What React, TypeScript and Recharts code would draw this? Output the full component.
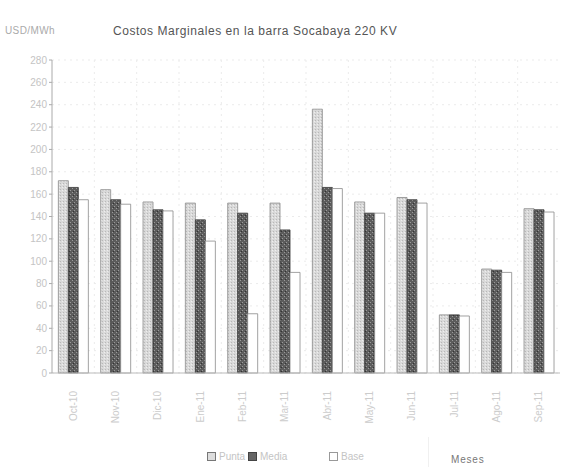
import { Bar, BarChart, CartesianGrid, Legend, XAxis, YAxis } from "recharts";

const months = ["Oct-10", "Nov-10", "Dic-10", "Ene-11", "Feb-11", "Mar-11", "Abr-11", "May-11", "Jun-11", "Jul-11", "Ago-11", "Sep-11"];
const punta = [172, 164, 153, 152, 152, 152, 236, 153, 157, 52, 93, 147];
const media = [166, 155, 146, 137, 143, 128, 166, 143, 155, 52, 92, 146];
const base = [155, 151, 145, 118, 53, 90, 165, 143, 152, 51, 90, 144];
const yTicks = [0, 20, 40, 60, 80, 100, 120, 140, 160, 180, 200, 220, 240, 260, 280];

const data = months.map((m, i) => ({ mes: m, Punta: punta[i], Media: media[i], Base: base[i] }));

const font = "'Liberation Sans', Arial, sans-serif";

function MonthTick({ x, y, payload }: any) {
  return (
    <text
      x={x}
      y={y + 10}
      transform={`rotate(-90 ${x} ${y + 10})`}
      textAnchor="end"
      dominantBaseline="central"
      fontSize={10}
      fontFamily={font}
      fill="#cccccc"
    >
      {payload.value}
    </text>
  );
}

function LegendBox() {
  const items = [
    { name: "Punta", fill: "#ddd", stroke: "#777" },
    { name: "Media", fill: "#666", stroke: "#444" },
    { name: "Base", fill: "#fff", stroke: "#999" },
  ];
  const xs = [207, 248, 329];
  return (
    <div style={{ position: "relative", width: 588, height: 20, fontFamily: font, fontSize: 10, color: "#c4c4c4" }}>
      {items.map((it, i) => (
        <div key={it.name} style={{ position: "absolute", left: xs[i], top: 0, display: "flex", alignItems: "center" }}>
          <svg width={9} height={9} style={{ marginRight: 3 }}>
            <rect x={0.5} y={0.5} width={8} height={8} fill={it.fill} stroke={it.stroke} />
          </svg>
          <span>{it.name}</span>
        </div>
      ))}
      <div style={{ position: "absolute", left: 428, top: -14, width: 1, height: 30, background: "#f0f0f0" }} />
      <div style={{ position: "absolute", left: 451, top: 3, color: "#777", fontSize: 10, letterSpacing: 0.8 }}>Meses</div>
    </div>
  );
}

export default function App() {
  return (
    <div style={{ position: "absolute", left: 0, top: 0, width: 588, height: 471, background: "#fff" }}>
      <div style={{ position: "absolute", left: 5, top: 25, fontFamily: font, fontSize: 10, color: "#aaa", letterSpacing: 0.4 }}>USD/MWh</div>
      <div style={{ position: "absolute", left: 113, top: 24, fontFamily: font, fontSize: 12, color: "#555", letterSpacing: 0.55 }}>
        Costos Marginales en la barra Socabaya 220 KV
      </div>
      <BarChart
        width={588}
        height={471}
        data={data}
        margin={{ top: 60, right: 28, left: 0, bottom: 0 }}
        barCategoryGap="15%"
        barGap={0}
      >
        <defs>
          <pattern id="pat-punta" width={3} height={3} patternUnits="userSpaceOnUse">
            <rect width={3} height={3} fill="#d9d9d9" />
            <rect x={0} y={0} width={1} height={1} fill="#b8b8b8" />
            <rect x={2} y={1} width={1} height={1} fill="#eeeeee" />
          </pattern>
          <pattern id="pat-media" width={4} height={4} patternUnits="userSpaceOnUse">
            <rect width={4} height={4} fill="#5c5c5c" />
            <rect x={0} y={0} width={1} height={1} fill="#9a9a9a" />
            <rect x={2} y={2} width={1} height={1} fill="#9a9a9a" />
            <rect x={1} y={3} width={1} height={1} fill="#333" />
          </pattern>
        </defs>
        <CartesianGrid
          stroke="#ebebeb"
          strokeDasharray="2 4"
          verticalCoordinatesGenerator={({ offset }: any) =>
            months.slice(1).map((_, i) => offset.left + ((i + 1) * offset.width) / months.length)
          }
        />
        <XAxis
          dataKey="mes"
          tick={<MonthTick />}
          tickLine={false}
          interval={0}
          height={78}
          axisLine={{ stroke: "#bbb" }}
        />
        <YAxis
          domain={[0, 280]}
          ticks={yTicks}
          width={52}
          interval={0}
          tick={{ fill: "#c4c4c4", fontSize: 10, fontFamily: font }}
          tickSize={3}
          tickLine={{ stroke: "#aaa" }}
          axisLine={{ stroke: "#aaa" }}
        />
        <Legend verticalAlign="bottom" content={() => <LegendBox />} wrapperStyle={{ left: 0, bottom: 0 }} />
        <Bar dataKey="Punta" fill="url(#pat-punta)" stroke="#8a8a8a" strokeWidth={0.8} isAnimationActive={false} />
        <Bar dataKey="Media" fill="url(#pat-media)" stroke="#3a3a3a" strokeWidth={0.8} isAnimationActive={false} />
        <Bar dataKey="Base" fill="#ffffff" stroke="#8a8a8a" strokeWidth={0.8} isAnimationActive={false} />
      </BarChart>
    </div>
  );
}
